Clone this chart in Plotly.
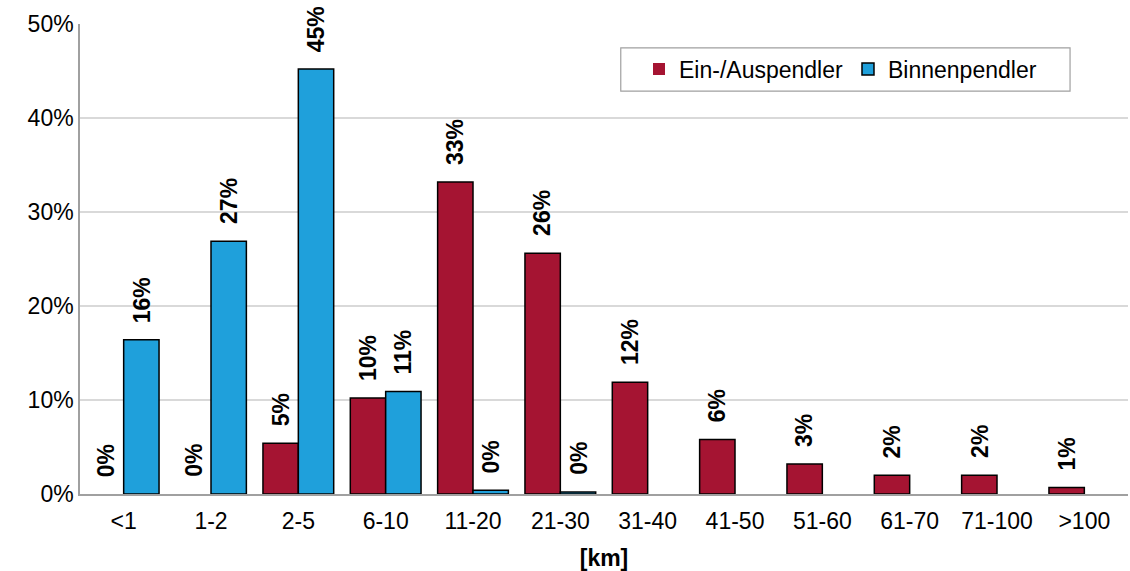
import plotly.graph_objects as go

# Distance bands (km) and share of commuters per band (%)
categories = ["<1", "1-2", "2-5", "6-10", "11-20", "21-30", "31-40",
              "41-50", "51-60", "61-70", "71-100", ">100"]
ein_auspendler = [0.0, 0.0, 5.4, 10.2, 33.2, 25.6, 11.9, 5.8, 3.2, 2.0, 2.0, 0.7]
binnenpendler = [16.4, 26.9, 45.2, 10.9, 0.4, 0.2, None, None, None, None, None, None]

RED = "#A51432"
BLUE = "#1FA0DB"
FONT = "Liberation Sans, Arial, sans-serif"


def outline_widths(values):
    # no outline for empty bars, so zero shares stay invisible
    return [0 if not v else 1.5 for v in values]


fig = go.Figure()
fig.add_trace(go.Bar(name="Ein-/Auspendler", x=categories, y=ein_auspendler,
                     marker=dict(color=RED, line=dict(color="black",
                                                      width=outline_widths(ein_auspendler)))))
fig.add_trace(go.Bar(name="Binnenpendler", x=categories, y=binnenpendler,
                     marker=dict(color=BLUE, line=dict(color="black",
                                                       width=outline_widths(binnenpendler)))))

# Rotated value labels above each bar
annotations = []
for values, shift in ((ein_auspendler, -17.8), (binnenpendler, 17.8)):
    for cat, v in zip(categories, values):
        if v is None:
            continue
        annotations.append(dict(
            x=cat, y=v, xref="x", yref="y", xshift=shift, yshift=15,
            text=f"<b>{round(v):d}%</b>", showarrow=False, textangle=-90,
            xanchor="center", yanchor="bottom",
            font=dict(family=FONT, size=23, color="black")))

fig.update_layout(
    width=1130, height=571,
    margin=dict(l=80, r=2, t=24, b=77),
    paper_bgcolor="white", plot_bgcolor="white",
    barmode="group", bargap=0.19, bargroupgap=0,
    font=dict(family=FONT, size=23, color="black"),
    annotations=annotations,
    # frame around the legend
    shapes=[dict(type="rect", xref="paper", yref="paper",
                 x0=0.516, x1=0.9447, y0=0.857, y1=0.949,
                 line=dict(color="#A0A0A0", width=1.2), fillcolor="white", layer="below")],
    legend=dict(orientation="h", x=0.5334, y=0.95, xanchor="left", yanchor="top",
                borderwidth=0, bgcolor="rgba(0,0,0,0)",
                font=dict(family=FONT, size=23, color="black"),
                itemwidth=30, tracegroupgap=0),
    xaxis=dict(showline=True, linecolor="#A0A0A0", linewidth=1.5,
               ticks="", tickfont=dict(size=23), ticklabelstandoff=6,
               title=dict(text="<b>[km]</b>", font=dict(size=23), standoff=20)),
    yaxis=dict(range=[0, 50], dtick=10, ticksuffix="%",
               showline=True, linecolor="#A0A0A0", linewidth=1.5,
               gridcolor="#D9D9D9", gridwidth=1.5, zeroline=False,
               ticks="", tickfont=dict(size=23)),
)

fig.write_html("out.html")
